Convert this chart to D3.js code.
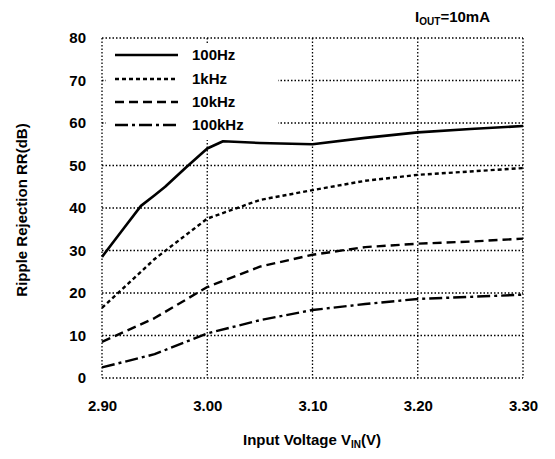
<!DOCTYPE html>
<html><head><meta charset="utf-8">
<script src="https://cdn.jsdelivr.net/npm/d3@7"></script>
<style>body{margin:0;background:#fff}text{font-family:"Liberation Sans",Arial,sans-serif;fill:#000}</style>
</head><body><svg id="c" width="555" height="459"></svg>
<script>
const xVals = [2.90, 2.92, 2.937, 2.95, 2.96, 2.98, 3.00, 3.015, 3.05, 3.10, 3.15, 3.20, 3.25, 3.30];
const s100Hz = [28.5, 35, 40.5, 43, 45, 49.6, 54, 55.7, 55.3, 55.0, 56.5, 57.8, 58.6, 59.3];
const xVals2 = [2.90, 2.95, 3.00, 3.05, 3.10, 3.15, 3.20, 3.25, 3.30];
const s1kHz = [16.5, 28.0, 37.5, 41.9, 44.2, 46.4, 47.8, 48.6, 49.4];
const s10kHz = [8.5, 14.1, 21.4, 26.2, 29.0, 30.8, 31.6, 32.1, 32.8];
const s100kHz = [2.5, 5.6, 10.5, 13.6, 16.0, 17.4, 18.6, 19.1, 19.6];
const legendLabels = ["100Hz", "1kHz", "10kHz", "100kHz"];
const xTicks = [2.90, 3.00, 3.10, 3.20, 3.30];
const yTicks = [0, 10, 20, 30, 40, 50, 60, 70, 80];

const svg = d3.select("#c");
const L = 102, R = 523, T = 38, B = 378;
const x = d3.scaleLinear().domain([2.90, 3.30]).range([L, R]);
const y = d3.scaleLinear().domain([0, 80]).range([B, T]);

const grid = svg.append("g").attr("stroke", "#000").attr("stroke-width", 1.3).attr("stroke-dasharray", "1.5,2");
xTicks.forEach(v => grid.append("line").attr("x1", x(v)).attr("x2", x(v)).attr("y1", T).attr("y2", B));
yTicks.forEach(v => grid.append("line").attr("x1", L).attr("x2", R).attr("y1", y(v)).attr("y2", y(v)));

const xAxis = svg.append("g").attr("transform", `translate(0,${B})`)
  .call(d3.axisBottom(x).tickValues(xTicks).tickFormat(d3.format(".2f")).tickSize(0).tickPadding(22));
const yAxis = svg.append("g").attr("transform", `translate(${L},0)`)
  .call(d3.axisLeft(y).tickValues(yTicks).tickSize(0).tickPadding(16));
[xAxis, yAxis].forEach(a => {
  a.select(".domain").remove();
  a.selectAll("text").attr("font-size", 15).attr("font-weight", "bold").attr("font-family", '"Liberation Sans",Arial,sans-serif');
});

const series = [
  {xs: xVals, ys: s100Hz, dash: null, w: 2.6},
  {xs: xVals2, ys: s1kHz, dash: "4,3", w: 2.4},
  {xs: xVals2, ys: s10kHz, dash: "9,5", w: 2.4},
  {xs: xVals2, ys: s100kHz, dash: "13,4,3,4", w: 2.4}
];
const line = d3.line().x(d => x(d[0])).y(d => y(d[1]));
series.forEach(s => {
  svg.append("path").datum(s.xs.map((v, i) => [v, s.ys[i]]))
    .attr("d", line).attr("fill", "none").attr("stroke", "#000")
    .attr("stroke-width", s.w).attr("stroke-dasharray", s.dash).attr("stroke-linejoin", "round");
});

// legend
svg.append("rect").attr("x", L + 4).attr("y", T + 6).attr("width", 172).attr("height", 96).attr("fill", "#fff");
const rowsY = [55, 79, 102, 125];
series.forEach((s, i) => {
  svg.append("line").attr("x1", 115).attr("x2", 178).attr("y1", rowsY[i]).attr("y2", rowsY[i])
    .attr("stroke", "#000").attr("stroke-width", s.w).attr("stroke-dasharray", s.dash);
  svg.append("text").attr("x", 192).attr("y", rowsY[i] + 5).attr("font-size", 15).attr("font-weight", "bold").text(legendLabels[i]);
});

// annotation
const ann = svg.append("text").attr("x", 490).attr("y", 22).attr("text-anchor", "end").attr("font-size", 15).attr("font-weight", "bold");
ann.append("tspan").text("I");
ann.append("tspan").attr("font-size", 10).attr("dy", 3).text("OUT");
ann.append("tspan").attr("dy", -3).text("=10mA");

// axis titles
const xt = svg.append("text").attr("x", 312).attr("y", 445).attr("text-anchor", "middle").attr("font-size", 15).attr("font-weight", "bold");
xt.append("tspan").text("Input Voltage V");
xt.append("tspan").attr("font-size", 10).attr("dy", 3).text("IN");
xt.append("tspan").attr("dy", -3).text("(V)");
svg.append("text").attr("transform", "translate(27,210) rotate(-90)").attr("text-anchor", "middle")
  .attr("font-size", 15).attr("font-weight", "bold").text("Ripple Rejection RR(dB)");
</script></body></html>
